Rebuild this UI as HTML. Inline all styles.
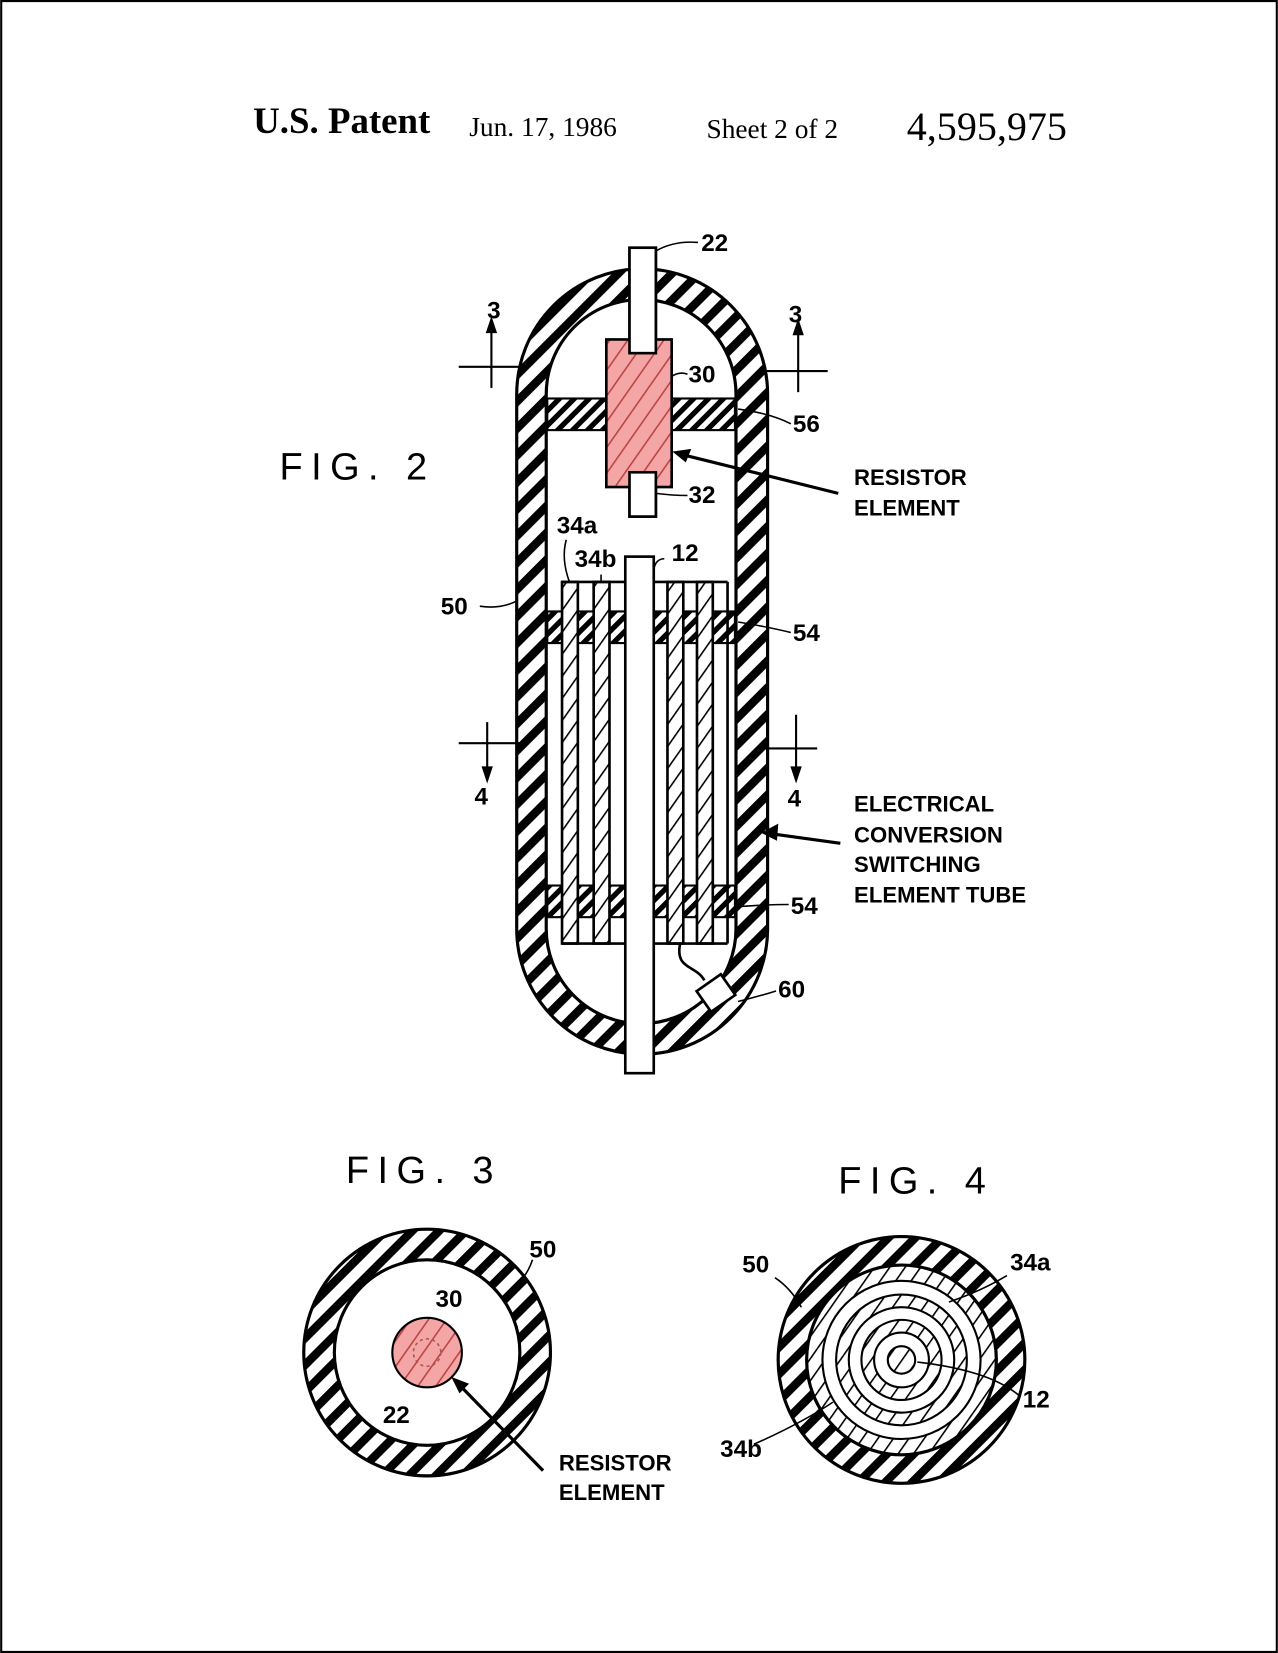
<!DOCTYPE html>
<html><head><meta charset="utf-8"><style>
html,body{margin:0;padding:0;background:#fff}
svg{display:block}
</style></head><body>
<svg width="1278" height="1653" viewBox="0 0 1212 1568" xmlns="http://www.w3.org/2000/svg">
<defs>
<pattern id="st" patternUnits="userSpaceOnUse" width="18" height="18" patternTransform="rotate(45)">
<rect width="18" height="18" fill="#fff"/><rect width="8" height="18" fill="#000"/></pattern>
<pattern id="st2" patternUnits="userSpaceOnUse" width="10" height="10" patternTransform="rotate(45)">
<rect width="10" height="10" fill="#fff"/><rect width="5" height="10" fill="#000"/></pattern>
<pattern id="hl" patternUnits="userSpaceOnUse" width="12" height="12" patternTransform="rotate(35)">
<rect width="12" height="12" fill="#fff"/><rect width="1.5" height="12" fill="#000"/></pattern>
<pattern id="hp" patternUnits="userSpaceOnUse" width="14" height="14" patternTransform="rotate(35)">
<rect width="14" height="14" fill="#f4a6a6"/><rect width="1.5" height="14" fill="#b44"/></pattern>
</defs>
<rect x="1" y="1" width="1210" height="1566" fill="#fff" stroke="#000" stroke-width="2"/>
<g font-family="Liberation Serif, serif" fill="#000">
<text x="240" y="126" font-size="35" font-weight="bold">U.S. Patent</text>
<text x="445" y="129" font-size="26">Jun. 17, 1986</text>
<text x="670" y="131" font-size="26">Sheet 2 of 2</text>
<text x="860" y="133" font-size="38">4,595,975</text>
</g>
<!-- FIG 2 capsule -->
<path d="M490 374 A119 119 0 0 1 728 374 L728 881 A119 119 0 0 1 490 881 Z" fill="url(#st)" stroke="#000" stroke-width="3"/>
<path d="M518 374 A90 90 0 0 1 698 374 L698 881 A90 90 0 0 1 518 881 Z" fill="#fff" stroke="#000" stroke-width="3"/>
<rect x="519" y="378" width="178" height="30" fill="url(#st2)" stroke="#000" stroke-width="2"/>
<rect x="519" y="580" width="178" height="30" fill="url(#st2)" stroke="#000" stroke-width="2"/>
<rect x="519" y="840" width="178" height="30" fill="url(#st2)" stroke="#000" stroke-width="2"/>
<g stroke="#000" stroke-width="2.5">
<rect x="533" y="552" width="15" height="343" fill="url(#hl)"/>
<rect x="563" y="552" width="15" height="343" fill="url(#hl)"/>
<rect x="633" y="552" width="15" height="343" fill="url(#hl)"/>
<rect x="661" y="552" width="15" height="343" fill="url(#hl)"/>
<line x1="533" y1="552" x2="690" y2="552"/><line x1="533" y1="895" x2="690" y2="895"/>
<line x1="690" y1="552" x2="690" y2="895"/>
<rect x="597" y="235" width="25" height="255" fill="#fff"/>
<rect x="575" y="322" width="62" height="140" fill="url(#hp)"/>
<rect x="597" y="235" width="25" height="100" fill="#fff"/>
<rect x="597" y="448" width="25" height="42" fill="#fff"/>
<rect x="593" y="528" width="27" height="490" fill="#fff"/>
<path d="M645 895 C640 920 660 915 668 930" fill="none"/>
<rect x="665" y="930" width="28" height="24" fill="#fff" transform="rotate(-35 679 942)"/>
</g>
<!-- FIG 3 -->
<circle cx="405" cy="1283" r="117" fill="url(#st)" stroke="#000" stroke-width="3"/>
<circle cx="405" cy="1283" r="88" fill="#fff" stroke="#000" stroke-width="3"/>
<circle cx="405" cy="1283" r="33" fill="url(#hp)" stroke="#000" stroke-width="2"/>
<circle cx="405" cy="1283" r="13" fill="none" stroke="#a55" stroke-width="1.5" stroke-dasharray="3 3"/>
<!-- FIG 4 -->
<circle cx="855" cy="1290" r="117" fill="url(#st)" stroke="#000" stroke-width="3"/>
<circle cx="855" cy="1290" r="90" fill="url(#hl)" stroke="#000" stroke-width="3"/>
<circle cx="855" cy="1290" r="75" fill="#fff" stroke="#000" stroke-width="2"/>
<circle cx="855" cy="1290" r="62" fill="url(#hl)" stroke="#000" stroke-width="2"/>
<circle cx="855" cy="1290" r="50" fill="#fff" stroke="#000" stroke-width="2"/>
<circle cx="855" cy="1290" r="38" fill="url(#hl)" stroke="#000" stroke-width="2"/>
<circle cx="855" cy="1290" r="26" fill="#fff" stroke="#000" stroke-width="2"/>
<circle cx="855" cy="1290" r="13" fill="url(#hl)" stroke="#000" stroke-width="2"/>
<!-- section lines / arrows / leaders -->
<g stroke="#000" stroke-width="2" fill="#000">
<line x1="435" y1="348" x2="498" y2="348"/><line x1="466" y1="368" x2="466" y2="310"/><path d="M466 303 l-4 12 h8z"/>
<line x1="720" y1="352" x2="785" y2="352"/><line x1="757" y1="372" x2="757" y2="312"/><path d="M757 305 l-4 12 h8z"/>
<line x1="435" y1="705" x2="495" y2="705"/><line x1="462" y1="685" x2="462" y2="735"/><path d="M462 740 l-4 -12 h8z"/>
<line x1="718" y1="710" x2="775" y2="710"/><line x1="755" y1="678" x2="755" y2="735"/><path d="M755 740 l-4 -12 h8z"/>
<path d="M642 430 L795 468" stroke-width="3" fill="none"/><path d="M640 429 l14 -2 l-4 10z"/>
<path d="M725 790 L797 800" stroke-width="3" fill="none"/><path d="M724 790 l13 -7 l-1 13z"/>
<path d="M432 1310 L515 1395" stroke-width="3" fill="none"/><path d="M430 1308 l13 5 l-7 7z"/>
</g>
<g stroke="#000" stroke-width="1.5" fill="none">
<path d="M622 238 Q640 228 662 230"/><path d="M637 357 Q645 352 652 355"/>
<path d="M700 388 Q730 392 750 402"/><path d="M622 468 Q638 470 652 470"/>
<path d="M455 575 Q475 578 490 570"/><path d="M700 590 Q730 595 750 600"/>
<path d="M700 860 Q730 858 748 858"/><path d="M700 950 Q720 945 736 940"/>
<path d="M537 512 Q532 530 540 552"/><path d="M570 545 L570 552"/><path d="M630 530 Q622 530 620 540"/>
<path d="M505 1195 Q500 1210 490 1218"/><path d="M735 1212 Q750 1222 760 1240"/>
<path d="M955 1210 Q930 1225 900 1235"/><path d="M968 1325 Q940 1300 870 1292"/>
<path d="M715 1370 Q760 1350 790 1330"/>
</g>
<g font-family="Liberation Sans, sans-serif" font-weight="bold" font-size="23" fill="#000">
<text x="665" y="238">22</text><text x="462" y="302">3</text><text x="748" y="306">3</text>
<text x="653" y="363">30</text><text x="752" y="410">56</text><text x="653" y="477">32</text>
<text x="528" y="506">34a</text><text x="545" y="538">34b</text><text x="637" y="532">12</text>
<text x="418" y="583">50</text><text x="752" y="608">54</text>
<text x="450" y="763">4</text><text x="747" y="765">4</text>
<text x="750" y="867">54</text><text x="738" y="946">60</text>
<text x="502" y="1193">50</text><text x="413" y="1240">30</text><text x="363" y="1350">22</text>
<text x="704" y="1207">50</text><text x="958" y="1205">34a</text><text x="970" y="1335">12</text><text x="683" y="1382">34b</text>
</g>
<g font-family="Liberation Sans, sans-serif" font-weight="bold" font-size="21" fill="#000">
<text x="810" y="460">RESISTOR</text><text x="810" y="489">ELEMENT</text>
<text x="810" y="770">ELECTRICAL</text><text x="810" y="799">CONVERSION</text><text x="810" y="827">SWITCHING</text><text x="810" y="856">ELEMENT TUBE</text>
<text x="530" y="1395">RESISTOR</text><text x="530" y="1423">ELEMENT</text>
</g>
<g font-family="Liberation Sans, sans-serif" font-size="36" fill="#000" letter-spacing="8">
<text x="265" y="455">FIG. 2</text><text x="328" y="1122">FIG. 3</text><text x="795" y="1132">FIG. 4</text>
</g>
</svg>
</body></html>
